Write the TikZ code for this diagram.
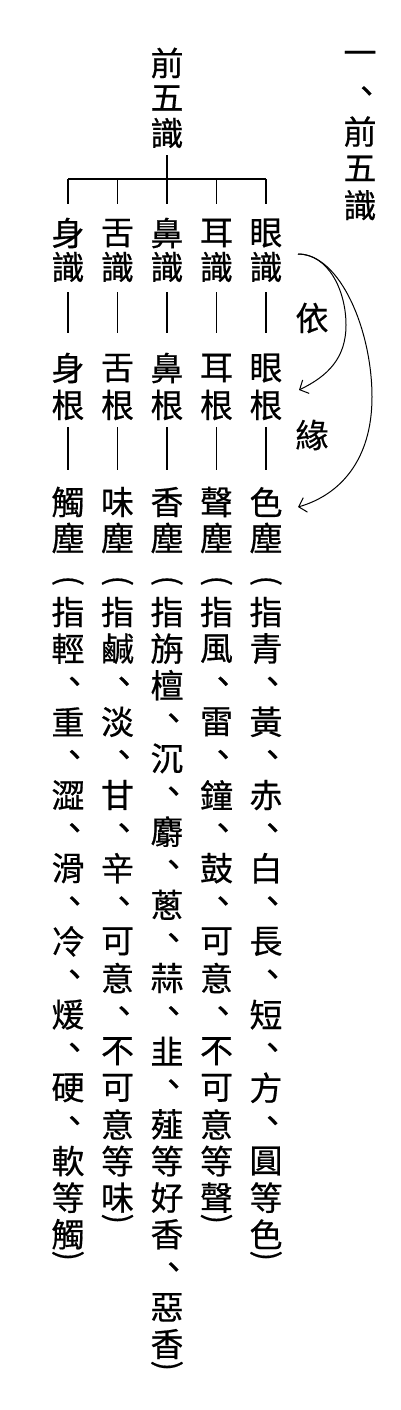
\documentclass[tikz,border=0pt]{standalone}
\usepackage{fontspec}
\usepackage{graphicx}
\newfontfamily\cjk[FakeBold=0.5]{Noto Sans CJK TC}
\usetikzlibrary{arrows.meta}
\newcommand\dn{\hbox to 1em{\hskip0.2em 、\hss}}
\newcommand\opn{\rotatebox[origin=c]{-90}{(}}
\newcommand\cls{\rotatebox[origin=c]{-90}{)}}
% name, x, y0, pitch, list
\newcommand\vstack[5]{\foreach \c [count=\i from 0] in {#5} {\node[ch] (#1-\i) at (#2,{#3+\i*#4}) {\c};}}
\begin{document}
\begin{tikzpicture}[x=1pt,y=-1pt,
  ch/.style={inner sep=0pt,font=\cjk\fontsize{33}{36}\selectfont},
  pstyle/.style={inner sep=0pt,font=\cjk\fontsize{31}{36}\selectfont},
  ln/.style={line width=1.1pt},
  arr/.style={line width=1pt,-{Straight Barb[length=7pt,width=15pt]}}]
\fill[white] (0,0) rectangle (400,1410);
\useasboundingbox (0,0) rectangle (400,1410);
% title
\vstack{h}{360}{58}{36.8}{一,\dn,前,五,識}
% root
\vstack{t}{167}{63}{35}{前,五,識}
% columns: e=眼 r=耳 b=鼻 z=舌 s=身
\foreach \id/\x/\a/\b in {e/266/眼/眼, r/216.5/耳/耳, b/167/鼻/鼻, z/117.5/舌/舌, s/68/身/身}{
  \vstack{\id1}{\x}{233}{34}{\a,識}
  \vstack{\id2}{\x}{368}{37}{\b,根}
  \node[pstyle] (\id p) at (\x,583) {\opn};
}
\vstack{e3}{266}{502}{36}{色,塵}
\vstack{r3}{216.5}{502}{36}{聲,塵}
\vstack{b3}{167}{502}{36}{香,塵}
\vstack{z3}{117.5}{502}{36}{味,塵}
\vstack{s3}{68}{502}{36}{觸,塵}
\vstack{et}{266}{612}{36.6}{指,青,\dn,黃,\dn,赤,\dn,白,\dn,長,\dn,短,\dn,方,\dn,圓,等,色}
\vstack{rt}{216.5}{612}{36.6}{指,風,\dn,雷,\dn,鐘,\dn,鼓,\dn,可,意,\dn,不,可,意,等,聲}
\vstack{bt}{167}{612}{36.6}{指,旃,檀,\dn,沉,\dn,麝,\dn,蔥,\dn,蒜,\dn,韭,\dn,薤,等,好,香,\dn,惡,香}
\vstack{zt}{117.5}{612}{36.6}{指,鹹,\dn,淡,\dn,甘,\dn,辛,\dn,可,意,\dn,不,可,意,等,味}
\vstack{st}{68}{612}{36.6}{指,輕,\dn,重,\dn,澀,\dn,滑,\dn,冷,\dn,煖,\dn,硬,\dn,軟,等,觸}
\node[pstyle] (eq) at (266,1258) {\cls};
\node[pstyle] (rq) at (216.5,1221) {\cls};
\node[pstyle] (bq) at (167,1368) {\cls};
\node[pstyle] (zq) at (117.5,1221) {\cls};
\node[pstyle] (sq) at (68,1258) {\cls};
% tree
\coordinate (k1) at (68,179);
\coordinate (k2) at (117.5,179);
\coordinate (k3) at (167,179);
\coordinate (k4) at (216.5,179);
\coordinate (k5) at (266,179);
\draw[ln,shorten <=22pt] (t-2.center) -- (k3);
\draw[ln] (k1) -- (k5);
\foreach \k/\id in {1/s,2/z,3/b,4/r,5/e}{
  \draw[ln,shorten >=29pt] (k\k) -- (\id1-0.center);
  \draw[ln,shorten <=25pt,shorten >=35pt] (\id1-1.center) -- (\id2-0.center);
  \draw[ln,shorten <=22pt,shorten >=32pt] (\id2-1.center) -- (\id3-0.center);
}
% arrows
\coordinate (aS) at (298,254);
\coordinate (aE1) at (299,390);
\coordinate (aE2) at (298,507);
\node[ch] (yi) at (312,318) {依};
\node[ch] (yuan) at (312,435) {緣};
\draw[arr] (aS) .. controls (328,254) and (346,290) .. (346,325)
  .. controls (346,358) and (328,376) .. (aE1);
\draw[arr] (aS) .. controls (340,254) and (372,330) .. (372,397)
  .. controls (372,460) and (340,495) .. (aE2);
\end{tikzpicture}
\end{document}
